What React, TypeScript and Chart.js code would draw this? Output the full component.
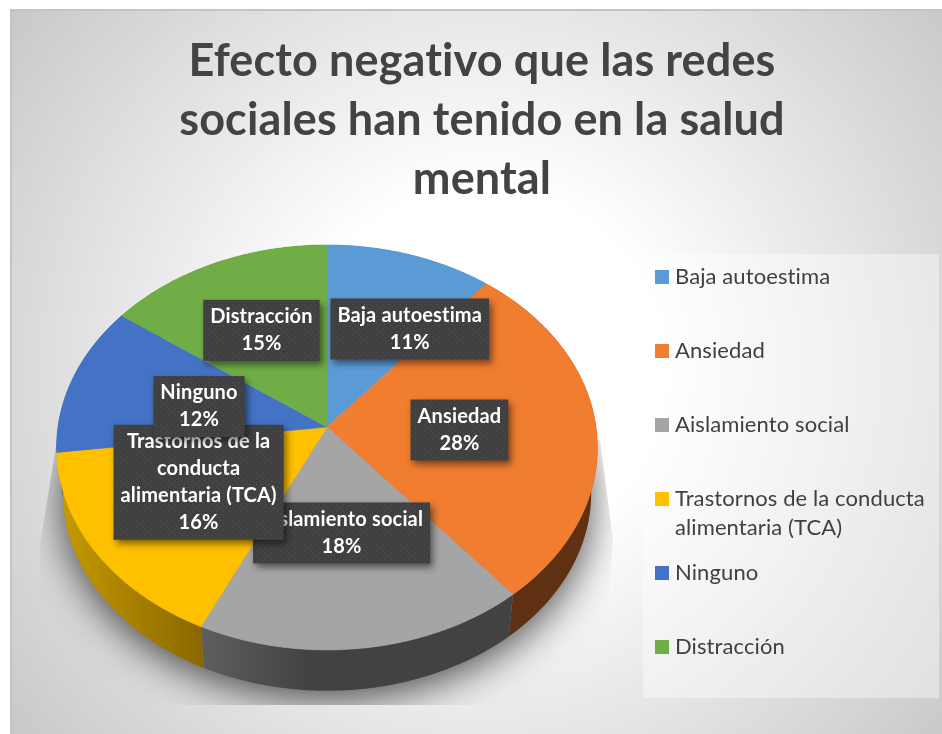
import React, { useEffect, useRef } from "react";
import { Chart, registerables } from "chart.js";

Chart.register(...registerables);

const categories = ["Baja autoestima", "Ansiedad", "Aislamiento social", "Trastornos de la conducta alimentaria (TCA)", "Ninguno", "Distracción"];
const values = [11, 28, 18, 16, 12, 15];
const sliceColors = ["#5B9BD5", "#F07D30", "#A5A5A5", "#FFC000", "#4472C4", "#70AD47"];
const titleLines = ["Efecto negativo que las redes", "sociales han tenido en la salud", "mental"];
const legendLines = [["Baja autoestima"], ["Ansiedad"], ["Aislamiento social"], ["Trastornos de la conducta", "alimentaria (TCA)"], ["Ninguno"], ["Distracción"]];
const labelLines = [["Baja autoestima"], ["Ansiedad"], ["Aislamiento social"], ["Trastornos de la", "conducta", "alimentaria (TCA)"], ["Ninguno"], ["Distracción"]];

const FONT = "Lato, 'Open Sans', sans-serif";
const sideStops: string[][] = [["#2f5f8c", "#2f5f8c"], ["#5f3112", "#5f3112"], ["#5e5e5e", "#424242"], ["#c79b00", "#8a6800"], ["#2a4a80", "#2a4a80"], ["#47702c", "#47702c"]];
const labelNudge = [[31, 9], [-29, 3], [-7, -21], [7, -18], [26, 9], [4, 5]];
const labelOrder = [0, 5, 1, 2, 3, 4];

const G = { cx: 327, cy: 427, a: 269, b: 200.4, k: 0.101, bottomScale: 0.977, bottomCy: 473 };

function top(t: number, r = 1): [number, number] {
  const v = r * Math.cos(t), s = r * Math.sin(t), w = 1 + G.k * v;
  return [G.cx + (G.a * s) / w, G.cy - (G.b * v) / w];
}
function bottom(t: number): [number, number] {
  const v = Math.cos(t), s = Math.sin(t), w = 1 + G.k * v;
  return [G.cx + (G.bottomScale * G.a * s) / w, G.bottomCy - (G.bottomScale * G.b * v) / w];
}

function dotPattern(ctx: CanvasRenderingContext2D) {
  const c = document.createElement("canvas");
  c.width = 6; c.height = 6;
  const p = c.getContext("2d")!;
  p.fillStyle = "#404040";
  p.fillRect(0, 0, 6, 6);
  p.fillStyle = "#525252";
  p.fillRect(1, 1, 1, 1);
  p.fillRect(4, 4, 1, 1);
  return ctx.createPattern(c, "repeat")!;
}

const pie3d = {
  id: "pie3d",
  beforeDraw(chart: any) {
    chart.ctx.letterSpacing = "0.12px";
  },
  beforeDatasetDraw(chart: any) {
    const ctx: CanvasRenderingContext2D = chart.ctx;
    const arcs = chart.getDatasetMeta(0).data;
    const range = (i: number) => [arcs[i].startAngle + Math.PI / 2, arcs[i].endAngle + Math.PI / 2];
    // soft cast shadow
    ctx.save();
    ctx.beginPath();
    ctx.moveTo(57, 440); ctx.lineTo(40, 545); ctx.lineTo(40, 705);
    ctx.lineTo(600, 705); ctx.lineTo(613, 540); ctx.lineTo(600, 440);
    ctx.closePath();
    ctx.clip();
    ctx.shadowColor = "rgba(0,0,0,0.7)";
    ctx.shadowBlur = 40;
    ctx.shadowOffsetY = 8;
    ctx.fillStyle = "#888";
    ctx.beginPath();
    for (let j = 0; j <= 180; j++) {
      const p = bottom((j / 180) * Math.PI * 2);
      j ? ctx.lineTo(p[0], p[1]) : ctx.moveTo(p[0], p[1]);
    }
    ctx.closePath();
    ctx.fill();
    ctx.restore();
    // side walls
    arcs.forEach((_: any, i: number) => {
      const [s, e] = range(i);
      const n = 80;
      ctx.beginPath();
      for (let j = 0; j <= n; j++) {
        const p = top(s + ((e - s) * j) / n);
        j ? ctx.lineTo(p[0], p[1]) : ctx.moveTo(p[0], p[1]);
      }
      for (let j = n; j >= 0; j--) {
        const p = bottom(s + ((e - s) * j) / n);
        ctx.lineTo(p[0], p[1]);
      }
      ctx.closePath();
      const xs = [top(s)[0], top(e)[0]];
      const g = ctx.createLinearGradient(i === 2 ? xs[1] : Math.min(...xs), 0, i === 2 ? 310 : Math.max(...xs), 0);
      g.addColorStop(0, sideStops[i][0]);
      g.addColorStop(1, sideStops[i][1]);
      ctx.fillStyle = g;
      ctx.fill();
    });
    // top faces
    arcs.forEach((_: any, i: number) => {
      const [s, e] = range(i);
      const n = 80;
      ctx.beginPath();
      ctx.moveTo(G.cx, G.cy);
      for (let j = 0; j <= n; j++) {
        const p = top(s + ((e - s) * j) / n);
        ctx.lineTo(p[0], p[1]);
      }
      ctx.closePath();
      ctx.fillStyle = sliceColors[i];
      ctx.strokeStyle = sliceColors[i];
      ctx.lineWidth = 0.6;
      ctx.fill();
      ctx.stroke();
    });
    return false;
  },
  afterDatasetsDraw(chart: any) {
    const ctx: CanvasRenderingContext2D = chart.ctx;
    const arcs = chart.getDatasetMeta(0).data;
    const pattern = dotPattern(ctx);
    const lh = 27;
    ctx.save();
    ctx.font = `bold 20px ${FONT}`;
    ctx.letterSpacing = "0.15px";
    ctx.textAlign = "center";
    ctx.textBaseline = "middle";
    labelOrder.forEach((i) => {
      const mid = (arcs[i].startAngle + arcs[i].endAngle) / 2 + Math.PI / 2;
      const p = top(mid, 0.6);
      const x = p[0] + labelNudge[i][0], y = p[1] + labelNudge[i][1];
      const lines = [...labelLines[i], `${values[i]}%`];
      const w = Math.max(...lines.map((l) => ctx.measureText(l).width)) + 14;
      const h = lines.length * lh + 7;
      ctx.save();
      ctx.shadowColor = "rgba(0,0,0,0.5)";
      ctx.shadowBlur = 7;
      ctx.shadowOffsetX = 3;
      ctx.shadowOffsetY = 4;
      ctx.fillStyle = pattern;
      ctx.fillRect(x - w / 2, y - h / 2, w, h);
      ctx.restore();
      ctx.fillStyle = "#ffffff";
      lines.forEach((l, j) => ctx.fillText(l, x, y - ((lines.length - 1) * lh) / 2 + j * lh));
    });
    ctx.restore();
  },
  afterDraw(chart: any) {
    const ctx: CanvasRenderingContext2D = chart.ctx;
    ctx.save();
    ctx.fillStyle = "rgba(255,255,255,0.4)";
    ctx.fillRect(643, 254, 296, 444);
    ctx.font = `22px ${FONT}`;
    ctx.letterSpacing = "0.1px";
    ctx.textBaseline = "middle";
    ctx.textAlign = "left";
    legendLines.forEach((lines, i) => {
      const y = 277 + i * 74;
      ctx.fillStyle = sliceColors[i];
      ctx.fillRect(655, y - 7, 14, 14);
      ctx.fillStyle = "#404040";
      lines.forEach((l, j) => ctx.fillText(l, 675, y + j * 29));
    });
    ctx.restore();
  },
};

export default function App() {
  const ref = useRef<HTMLCanvasElement>(null);
  useEffect(() => {
    const chart = new Chart(ref.current!, {
      type: "pie",
      data: { labels: categories, datasets: [{ data: values, backgroundColor: sliceColors, borderWidth: 0 }] },
      plugins: [pie3d],
      options: {
        animation: false,
        responsive: false,
        events: [],
        layout: { padding: { left: 22 } },
        plugins: {
          legend: { display: false },
          tooltip: { enabled: false },
          title: {
            display: true,
            fullSize: false,
            text: titleLines,
            color: "#434343",
            font: { family: FONT, size: 45, weight: "bold", lineHeight: 1.31 },
            padding: { top: 32, bottom: 10 },
          },
        },
      },
    } as any);
    return () => chart.destroy();
  }, []);
  return (
    <div style={{ position: "absolute", left: 0, top: 0, width: 942, height: 734, background: "#fff", overflow: "hidden" }}>
      <div
        style={{
          position: "absolute",
          left: 10,
          top: 9,
          width: 932,
          height: 725,
          boxSizing: "border-box",
          borderTop: "2px solid #c4c4c4",
          borderLeft: "2px solid #c4c4c4",
          background: "radial-gradient(circle 610px at 470px 361px, #ffffff 30%, #c6c6c6 100%)",
        }}
      />
      <canvas ref={ref} width={942} height={734} style={{ position: "absolute", left: 0, top: 0, display: "block" }} />
    </div>
  );
}
